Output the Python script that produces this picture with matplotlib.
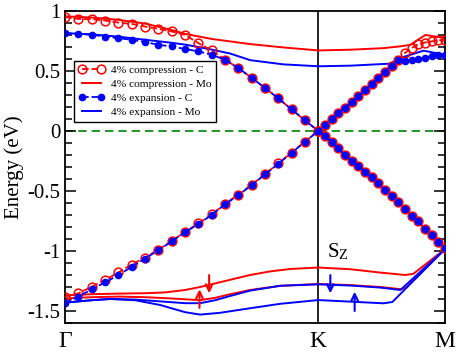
import numpy as np
import matplotlib
matplotlib.use("Agg")
import matplotlib.pyplot as plt

plt.rcParams['font.family'] = ['Liberation Serif', 'DejaVu Serif']
plt.rcParams['mathtext.fontset'] = 'stix'

# k-path: Gamma = 0, K = 2, M = 3
k_sym = [0, 2, 3]
k_labels = ['\u0393', 'K', 'M']

# sample points of the C bands (19 steps Gamma-K, 19 steps K-M)
k_c = [0, 0.105, 0.211, 0.316, 0.421, 0.526, 0.632, 0.737, 0.842, 0.947,
       1.053, 1.158, 1.263, 1.368, 1.474, 1.579, 1.684, 1.789, 1.895, 2.0,
       2.053, 2.105, 2.158, 2.211, 2.263, 2.316, 2.368, 2.421, 2.474, 2.526,
       2.579, 2.632, 2.684, 2.737, 2.789, 2.842, 2.895, 2.947, 3.0]

# 4% compression - C
comp_c_up = [0.948, 0.934, 0.931, 0.920, 0.903, 0.892, 0.870, 0.851, 0.829, 0.801,
             0.732, 0.671, 0.594, 0.525, 0.442, 0.359, 0.271, 0.180, 0.088, 0.0,
             0.047, 0.097, 0.147, 0.194, 0.240, 0.290, 0.340, 0.393, 0.442, 0.492,
             0.544, 0.594, 0.650, 0.691, 0.724, 0.737, 0.746, 0.754, 0.760]
comp_c_dn = [-1.380, -1.353, -1.298, -1.243, -1.179, -1.113, -1.055, -0.989, -0.918, -0.840,
             -0.771, -0.696, -0.608, -0.531, -0.448, -0.359, -0.271, -0.180, -0.088, 0.0,
             -0.045, -0.091, -0.146, -0.202, -0.249, -0.290, -0.340, -0.387, -0.436, -0.489,
             -0.539, -0.594, -0.649, -0.705, -0.754, -0.815, -0.870, -0.925, -0.974]

# 4% expansion - C
exp_c_up = [0.815, 0.809, 0.801, 0.787, 0.773, 0.760, 0.741, 0.718, 0.704, 0.683,
            0.663, 0.635, 0.594, 0.525, 0.442, 0.359, 0.271, 0.180, 0.088, 0.0,
            0.047, 0.097, 0.147, 0.194, 0.240, 0.290, 0.340, 0.393, 0.442, 0.492,
            0.544, 0.588, 0.580, 0.594, 0.600, 0.608, 0.621, 0.630, 0.635]
exp_c_dn = [-1.436, -1.380, -1.320, -1.262, -1.201, -1.132, -1.063, -0.994, -0.920, -0.845,
            -0.775, -0.700, -0.612, -0.535, -0.452, -0.362, -0.273, -0.182, -0.090, 0.0,
            -0.045, -0.091, -0.146, -0.202, -0.249, -0.290, -0.340, -0.387, -0.436, -0.489,
            -0.539, -0.594, -0.649, -0.705, -0.754, -0.815, -0.870, -0.925, -0.974]

# 4% compression - Mo
comp_mo_up_k = [0, 0.213, 0.427, 0.632, 0.830, 0.949, 1.067, 1.162, 1.462, 1.723, 2.0, 2.253, 2.514, 2.648, 2.727, 2.846, 3.0]
comp_mo_up = [0.955, 0.945, 0.925, 0.895, 0.845, 0.809, 0.785, 0.766, 0.724, 0.696, 0.671, 0.677, 0.690, 0.705, 0.718, 0.800, 0.774]
comp_mo_a_k = [0, 0.213, 0.427, 0.632, 0.791, 0.949, 1.067, 1.186, 1.304, 1.462, 1.621, 1.779, 2.0, 2.253, 2.490, 2.688, 2.751, 3.0]
comp_mo_a = [-1.370, -1.360, -1.355, -1.352, -1.345, -1.325, -1.300, -1.270, -1.240, -1.200, -1.170, -1.150, -1.138, -1.152, -1.180, -1.200, -1.190, -0.985]
comp_mo_b_k = [0, 0.213, 0.427, 0.632, 0.830, 1.067, 1.186, 1.304, 1.462, 1.700, 2.0, 2.253, 2.490, 2.648, 2.688, 3.0]
comp_mo_b = [-1.395, -1.385, -1.380, -1.385, -1.395, -1.410, -1.390, -1.360, -1.325, -1.290, -1.275, -1.284, -1.300, -1.318, -1.310, -0.985]

# 4% expansion - Mo
exp_mo_up_k = [0, 0.213, 0.427, 0.632, 0.840, 0.957, 1.162, 1.304, 1.462, 1.723, 2.0, 2.253, 2.514, 2.569, 2.648, 2.830, 3.0]
exp_mo_up = [0.815, 0.805, 0.785, 0.760, 0.735, 0.718, 0.677, 0.645, 0.590, 0.555, 0.539, 0.544, 0.558, 0.561, 0.608, 0.669, 0.635]
exp_mo_c_k = [0, 0.213, 0.356, 0.553, 0.751, 0.949, 1.067, 1.186, 1.304, 1.462, 1.700, 2.0, 2.253, 2.490, 2.625, 2.648, 3.0]
exp_mo_c = [-1.430, -1.410, -1.400, -1.405, -1.420, -1.435, -1.435, -1.410, -1.375, -1.330, -1.290, -1.278, -1.288, -1.305, -1.322, -1.325, -0.985]
exp_mo_d_k = [0, 0.213, 0.356, 0.553, 0.751, 0.949, 1.067, 1.225, 1.462, 1.700, 2.0, 2.253, 2.514, 2.585, 3.0]
exp_mo_d = [-1.430, -1.410, -1.400, -1.410, -1.450, -1.510, -1.530, -1.515, -1.477, -1.440, -1.409, -1.422, -1.436, -1.425, -0.985]

# spin arrows: (k, E start, E end)
arrows_red = [(1.138, -1.201, -1.352), (1.062, -1.474, -1.320)]
arrows_blue = [(2.095, -1.201, -1.352), (2.287, -1.500, -1.340)]

fig, ax = plt.subplots(figsize=(4.63, 3.53), dpi=100)
fig.subplots_adjust(left=0.1404, right=0.961, bottom=0.085, top=0.969)

ax.axhline(0, color='#008000', lw=1.2, ls=(0, (5, 3)), zorder=1)
ax.axvline(2, color='black', lw=1.2, zorder=1)

ax.plot(k_c, comp_c_up, color='red', ls='--', lw=1.3, marker='o', ms=6.3,
        mfc='none', mec='red', mew=1.1, label='4% compression - C', zorder=3)
ax.plot(k_c, comp_c_dn, color='red', ls='--', lw=1.3, marker='o', ms=6.3,
        mfc='none', mec='red', mew=1.1, zorder=3)
ax.plot(comp_mo_up_k, comp_mo_up, color='red', lw=1.4, label='4% compression - Mo', zorder=2)
ax.plot(comp_mo_a_k, comp_mo_a, color='red', lw=1.4, zorder=2)
ax.plot(comp_mo_b_k, comp_mo_b, color='red', lw=1.4, zorder=2)

ax.plot(k_c, exp_c_up, color='blue', ls='--', lw=1.3, marker='o', ms=4.5,
        mfc='blue', mec='blue', label='4% expansion - C', zorder=4)
ax.plot(k_c, exp_c_dn, color='blue', ls='--', lw=1.3, marker='o', ms=4.5,
        mfc='blue', mec='blue', zorder=4)
ax.plot(exp_mo_up_k, exp_mo_up, color='blue', lw=1.4, label='4% expansion - Mo', zorder=2)
ax.plot(exp_mo_c_k, exp_mo_c, color='blue', lw=1.4, zorder=2)
ax.plot(exp_mo_d_k, exp_mo_d, color='blue', lw=1.4, zorder=2)

for arrows, col in [(arrows_red, 'red'), (arrows_blue, 'blue')]:
    for kx, e0, e1 in arrows:
        ax.annotate('', xy=(kx, e1), xytext=(kx, e0),
                    arrowprops=dict(arrowstyle='->', lw=1.5, color=col,
                                    mutation_scale=12, shrinkA=0, shrinkB=0))
ax.text(2.07, -1.05, r'S$_\mathregular{Z}$', fontsize=15)

ax.set_xlim(0, 3)
ax.set_ylim(-1.6, 1.0)
ax.set_xticks(k_sym)
ax.set_xticklabels(k_labels, fontsize=17)
ax.tick_params(axis='x', length=0, pad=6)
ax.set_yticks([-1.5, -1, -0.5, 0, 0.5, 1])
ax.set_yticklabels(['-1.5', '-1', '-0.5', '0', '0.5', '1'], fontsize=15)
ax.set_yticks(np.arange(-1.6, 1.01, 0.1), minor=True)
ax.tick_params(axis='y', which='both', direction='in', left=True, right=True)
ax.tick_params(axis='y', which='major', length=8, width=1.1)
ax.tick_params(axis='y', which='minor', length=5, width=1.1)
ax.set_ylabel('Energy (eV)', fontsize=15, labelpad=2)
for s in ax.spines.values():
    s.set_linewidth(1.3)

leg = ax.legend(loc='upper left', bbox_to_anchor=(0.024, 0.84), borderaxespad=0,
                fontsize=8.2, numpoints=2, handlelength=2.3, handletextpad=0.5,
                labelspacing=0.35, borderpad=0.4, fancybox=False, edgecolor='black',
                framealpha=1)
leg.get_frame().set_linewidth(1.0)

plt.savefig('out.png', dpi=100)
